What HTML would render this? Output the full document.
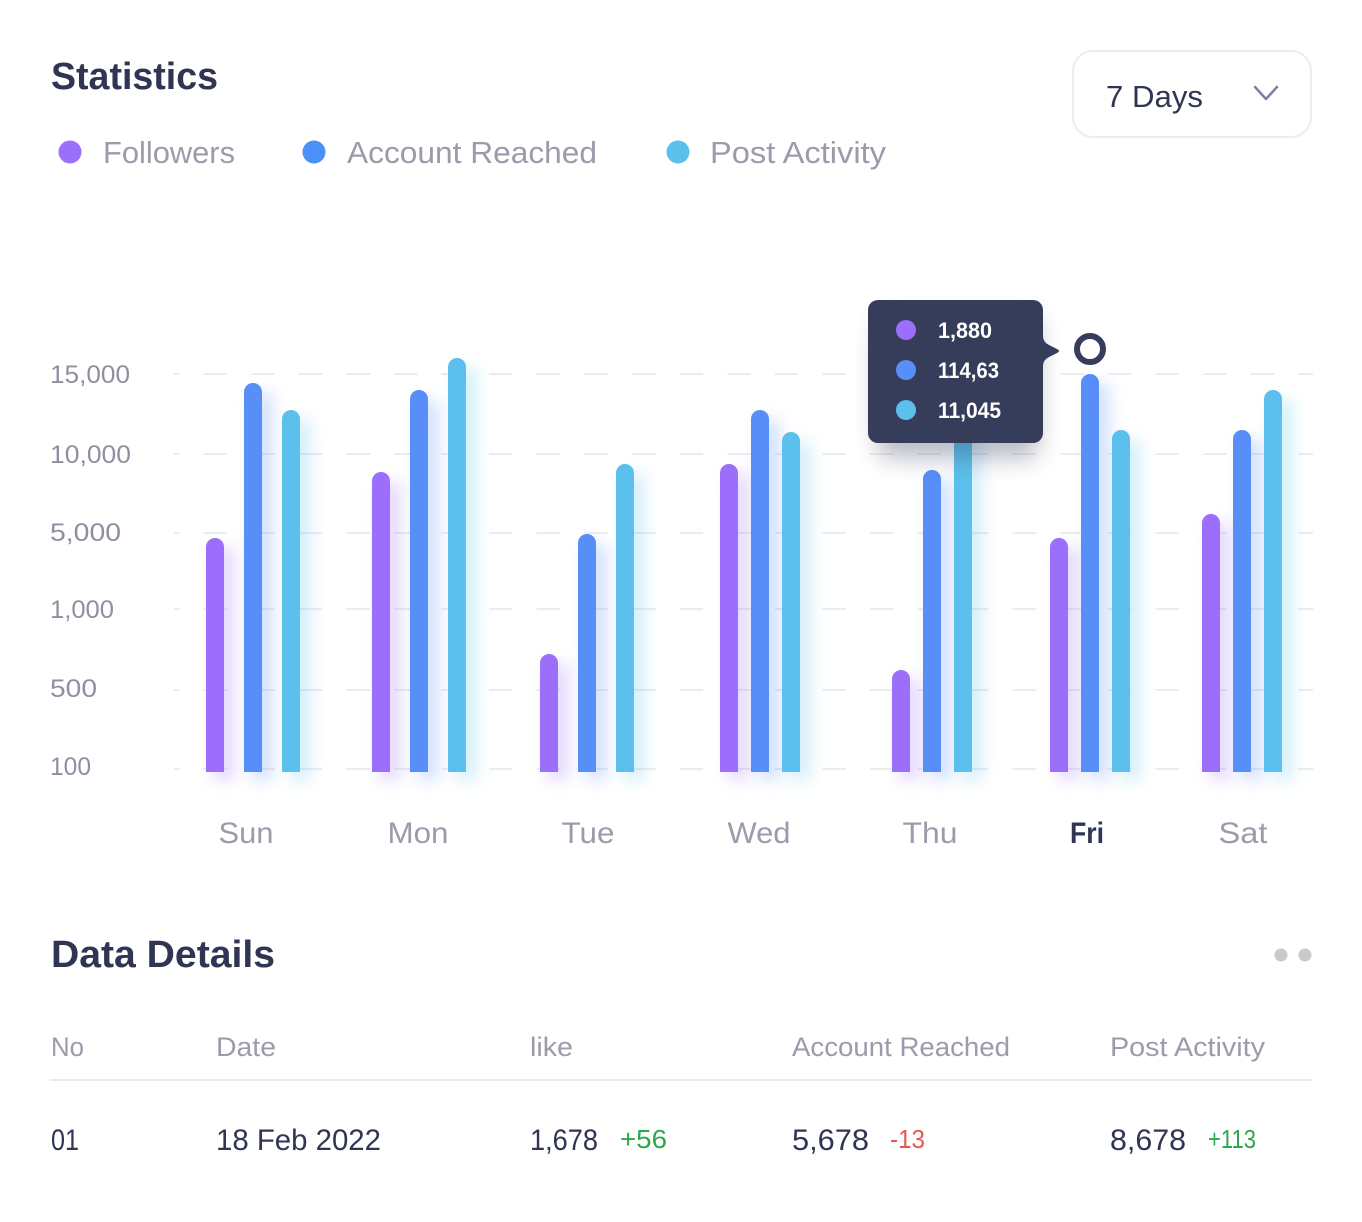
<!DOCTYPE html>
<html><head><meta charset="utf-8"><style>
html,body{margin:0;padding:0;background:#fff;}
svg{display:block;}
text{font-family:"Liberation Sans",sans-serif;}
</style></head><body>
<svg width="1362" height="1222" viewBox="0 0 1362 1222" xmlns="http://www.w3.org/2000/svg">
<defs>
<filter id="glow" x="-200%" y="-20%" width="500%" height="140%"><feGaussianBlur stdDeviation="8"/></filter>
<filter id="sh" x="-30%" y="-30%" width="160%" height="180%"><feGaussianBlur stdDeviation="12"/></filter>
<filter id="sh2" x="-10%" y="-30%" width="120%" height="160%"><feGaussianBlur stdDeviation="3"/></filter>
</defs>
<rect width="1362" height="1222" fill="#fff"/>

<!-- Title -->
<text x="51" y="89" font-size="38" font-weight="bold" fill="#2f3552" textLength="167" lengthAdjust="spacingAndGlyphs">Statistics</text>

<!-- Legend -->
<circle cx="70" cy="152" r="11.5" fill="#9b6ffb"/>
<text x="103" y="163" font-size="31" fill="#9a9cab" textLength="132" lengthAdjust="spacingAndGlyphs">Followers</text>
<circle cx="314" cy="152" r="11.5" fill="#4a90f7"/>
<text x="347" y="163" font-size="31" fill="#9a9cab" textLength="250" lengthAdjust="spacingAndGlyphs">Account Reached</text>
<circle cx="678" cy="152" r="11.5" fill="#5bc0eb"/>
<text x="710" y="163" font-size="31" fill="#9a9cab" textLength="176" lengthAdjust="spacingAndGlyphs">Post Activity</text>

<!-- Dropdown -->
<rect x="1073" y="51" width="238" height="86" rx="20" fill="#fff" stroke="#ededf1" stroke-width="2"/>
<text x="1106" y="107" font-size="31" fill="#2f3552" textLength="97" lengthAdjust="spacingAndGlyphs">7 Days</text>
<polyline points="1255,87 1266,99 1277,87" fill="none" stroke="#7b80a0" stroke-width="2.5" stroke-linecap="round" stroke-linejoin="round"/>

<!-- Y labels -->
<g font-size="25" fill="#8e90a2">
<text x="50" y="383" textLength="80" lengthAdjust="spacingAndGlyphs">15,000</text>
<text x="50" y="463" textLength="81" lengthAdjust="spacingAndGlyphs">10,000</text>
<text x="50" y="541" textLength="71" lengthAdjust="spacingAndGlyphs">5,000</text>
<text x="50" y="618" textLength="64" lengthAdjust="spacingAndGlyphs">1,000</text>
<text x="50" y="697" textLength="47" lengthAdjust="spacingAndGlyphs">500</text>
<text x="50" y="775" textLength="41" lengthAdjust="spacingAndGlyphs">100</text>
</g>

<!-- Grid -->
<g stroke="#ececf0" stroke-width="2" stroke-dasharray="23.5 24.1" stroke-dashoffset="18">
<line x1="174" y1="374" x2="1313" y2="374"/>
<line x1="174" y1="454" x2="1313" y2="454"/>
<line x1="174" y1="533" x2="1313" y2="533"/>
<line x1="174" y1="609" x2="1313" y2="609"/>
<line x1="174" y1="690" x2="1313" y2="690"/>
<line x1="174" y1="769" x2="1313" y2="769"/>
</g>

<!-- Glows -->
<g filter="url(#glow)" opacity="0.28">
<rect x="214" y="548" width="20" height="232" fill="#9b6ffb"/>
<rect x="252" y="393" width="20" height="387" fill="#578ef7"/>
<rect x="290" y="420" width="20" height="360" fill="#5bc0eb"/>
<rect x="380" y="482" width="20" height="298" fill="#9b6ffb"/>
<rect x="418" y="400" width="20" height="380" fill="#578ef7"/>
<rect x="456" y="368" width="20" height="412" fill="#5bc0eb"/>
<rect x="548" y="664" width="20" height="116" fill="#9b6ffb"/>
<rect x="586" y="544" width="20" height="236" fill="#578ef7"/>
<rect x="624" y="474" width="20" height="306" fill="#5bc0eb"/>
<rect x="728" y="474" width="20" height="306" fill="#9b6ffb"/>
<rect x="759" y="420" width="20" height="360" fill="#578ef7"/>
<rect x="790" y="442" width="20" height="338" fill="#5bc0eb"/>
<rect x="900" y="680" width="20" height="100" fill="#9b6ffb"/>
<rect x="931" y="480" width="20" height="300" fill="#578ef7"/>
<rect x="962" y="435" width="20" height="345" fill="#5bc0eb"/>
<rect x="1058" y="548" width="20" height="232" fill="#9b6ffb"/>
<rect x="1089" y="384" width="20" height="396" fill="#578ef7"/>
<rect x="1120" y="440" width="20" height="340" fill="#5bc0eb"/>
<rect x="1210" y="524" width="20" height="256" fill="#9b6ffb"/>
<rect x="1241" y="440" width="20" height="340" fill="#578ef7"/>
<rect x="1272" y="400" width="20" height="380" fill="#5bc0eb"/>
</g>

<!-- Bars -->
<g>
<path d="M206,772 V547 a9,9 0 0 1 18,0 V772 Z" fill="#9b6ffb"/>
<path d="M244,772 V392 a9,9 0 0 1 18,0 V772 Z" fill="#578ef7"/>
<path d="M282,772 V419 a9,9 0 0 1 18,0 V772 Z" fill="#5bc0eb"/>

<path d="M372,772 V481 a9,9 0 0 1 18,0 V772 Z" fill="#9b6ffb"/>
<path d="M410,772 V399 a9,9 0 0 1 18,0 V772 Z" fill="#578ef7"/>
<path d="M448,772 V367 a9,9 0 0 1 18,0 V772 Z" fill="#5bc0eb"/>

<path d="M540,772 V663 a9,9 0 0 1 18,0 V772 Z" fill="#9b6ffb"/>
<path d="M578,772 V543 a9,9 0 0 1 18,0 V772 Z" fill="#578ef7"/>
<path d="M616,772 V473 a9,9 0 0 1 18,0 V772 Z" fill="#5bc0eb"/>

<path d="M720,772 V473 a9,9 0 0 1 18,0 V772 Z" fill="#9b6ffb"/>
<path d="M751,772 V419 a9,9 0 0 1 18,0 V772 Z" fill="#578ef7"/>
<path d="M782,772 V441 a9,9 0 0 1 18,0 V772 Z" fill="#5bc0eb"/>

<path d="M892,772 V679 a9,9 0 0 1 18,0 V772 Z" fill="#9b6ffb"/>
<path d="M923,772 V479 a9,9 0 0 1 18,0 V772 Z" fill="#578ef7"/>
<path d="M954,772 V434 a9,9 0 0 1 18,0 V772 Z" fill="#5bc0eb"/>

<path d="M1050,772 V547 a9,9 0 0 1 18,0 V772 Z" fill="#9b6ffb"/>
<path d="M1081,772 V383 a9,9 0 0 1 18,0 V772 Z" fill="#578ef7"/>
<path d="M1112,772 V439 a9,9 0 0 1 18,0 V772 Z" fill="#5bc0eb"/>

<path d="M1202,772 V523 a9,9 0 0 1 18,0 V772 Z" fill="#9b6ffb"/>
<path d="M1233,772 V439 a9,9 0 0 1 18,0 V772 Z" fill="#578ef7"/>
<path d="M1264,772 V399 a9,9 0 0 1 18,0 V772 Z" fill="#5bc0eb"/>
</g>

<!-- X labels -->
<g font-size="30" fill="#9a9cab" text-anchor="middle">
<text x="246" y="843" textLength="55" lengthAdjust="spacingAndGlyphs">Sun</text>
<text x="418" y="843" textLength="61" lengthAdjust="spacingAndGlyphs">Mon</text>
<text x="588" y="843" textLength="53" lengthAdjust="spacingAndGlyphs">Tue</text>
<text x="759" y="843" textLength="63" lengthAdjust="spacingAndGlyphs">Wed</text>
<text x="930" y="843" textLength="55" lengthAdjust="spacingAndGlyphs">Thu</text>
<text x="1087" y="843" textLength="34" lengthAdjust="spacingAndGlyphs" fill="#2f3552" font-weight="bold">Fri</text>
<text x="1243" y="843" textLength="49" lengthAdjust="spacingAndGlyphs">Sat</text>
</g>

<!-- Tooltip -->
<rect x="878" y="318" width="160" height="140" rx="12" fill="#363d5b" opacity="0.35" filter="url(#sh)"/>
<path d="M878,300 H1033 a10,10 0 0 1 10,10 V336 q0,6 6,9 l8,4 q4,2 0,4 l-8,4 q-6,3 -6,9 V433 a10,10 0 0 1 -10,10 H878 a10,10 0 0 1 -10,-10 V310 a10,10 0 0 1 10,-10 Z" fill="#363d5b"/>
<circle cx="906" cy="330" r="10" fill="#9b6ffb"/>
<circle cx="906" cy="370" r="10" fill="#578ef7"/>
<circle cx="906" cy="410" r="10" fill="#5bc0eb"/>
<g font-size="22" fill="#ffffff" font-weight="bold">
<text x="938" y="338" textLength="54" lengthAdjust="spacingAndGlyphs">1,880</text>
<text x="938" y="378" textLength="61" lengthAdjust="spacingAndGlyphs">114,63</text>
<text x="938" y="418" textLength="63" lengthAdjust="spacingAndGlyphs">11,045</text>
</g>

<!-- Marker -->
<circle cx="1090" cy="349" r="13" fill="#fff" stroke="#363d5b" stroke-width="6"/>

<!-- Data Details -->
<text x="51" y="967" font-size="38" font-weight="bold" fill="#2f3552" textLength="224" lengthAdjust="spacingAndGlyphs">Data Details</text>
<circle cx="1281" cy="955" r="6.5" fill="#c9c9cd"/>
<circle cx="1305" cy="955" r="6.5" fill="#c9c9cd"/>

<g font-size="27" fill="#9a9cab">
<text x="51" y="1056" textLength="33" lengthAdjust="spacingAndGlyphs">No</text>
<text x="216" y="1056" textLength="60" lengthAdjust="spacingAndGlyphs">Date</text>
<text x="530" y="1056" textLength="43" lengthAdjust="spacingAndGlyphs">like</text>
<text x="792" y="1056" textLength="218" lengthAdjust="spacingAndGlyphs">Account Reached</text>
<text x="1110" y="1056" textLength="155" lengthAdjust="spacingAndGlyphs">Post Activity</text>
</g>
<line x1="50" y1="1080" x2="1312" y2="1080" stroke="#ebebef" stroke-width="2"/>

<g font-size="30" fill="#2f3552">
<text x="51" y="1150" textLength="28" lengthAdjust="spacingAndGlyphs">01</text>
<text x="216" y="1150" textLength="165" lengthAdjust="spacingAndGlyphs">18 Feb 2022</text>
<text x="530" y="1150" textLength="68" lengthAdjust="spacingAndGlyphs">1,678</text>
<text x="792" y="1150" textLength="77" lengthAdjust="spacingAndGlyphs">5,678</text>
<text x="1110" y="1150" textLength="76" lengthAdjust="spacingAndGlyphs">8,678</text>
</g>
<g font-size="26">
<text x="620" y="1148" fill="#2aa84a" textLength="47" lengthAdjust="spacingAndGlyphs">+56</text>
<text x="890" y="1148" fill="#ef5350" textLength="35" lengthAdjust="spacingAndGlyphs">-13</text>
<text x="1208" y="1148" fill="#2aa84a" textLength="48" lengthAdjust="spacingAndGlyphs">+113</text>
</g>
</svg>
</body></html>
